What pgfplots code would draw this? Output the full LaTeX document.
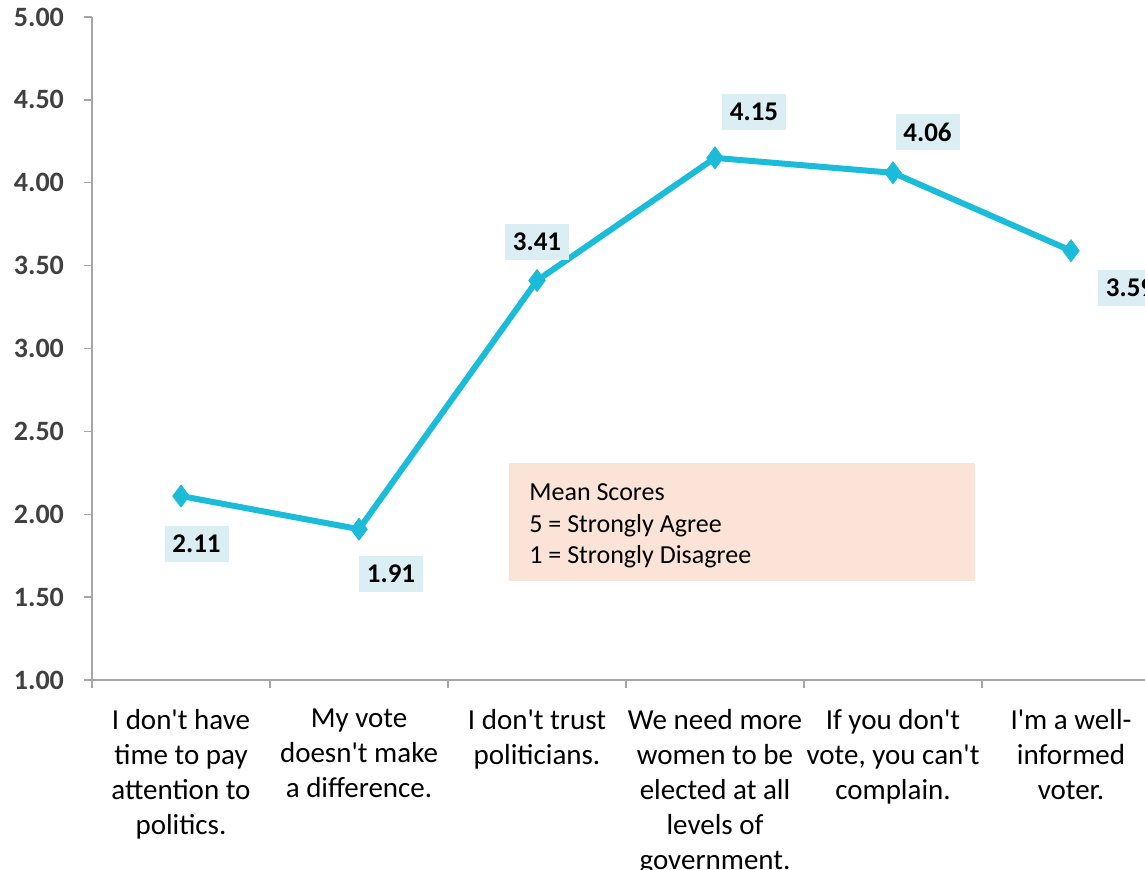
\documentclass[border=0pt]{standalone}
\usepackage{pgfplots}
\pgfplotsset{compat=1.18}
\usepackage{pgfplotstable}
\usepackage{fontspec}
\setmainfont{Carlito}
\definecolor{linecyan}{HTML}{1BBCD9}
\definecolor{labelbox}{HTML}{DBEEF4}
\definecolor{notebox}{HTML}{FBE4D7}
\definecolor{axisgray}{HTML}{A6A6A6}
\definecolor{ticktext}{HTML}{404040}
\newcommand{\ap}{\textquotesingle}

% x = category index, y = mean score, dx/dy = label offset in pt
\pgfplotstableread{
x y dx dy
0 2.11 7.75 -23.75
1 1.91 16 -22.5
2 3.41 0 19.5
3 4.15 19.5 23
4 4.06 17.25 20.25
5 3.59 29.5 -18.5
}\meanscores

\begin{document}
\begin{tikzpicture}
\begin{axis}[
  scale only axis, width=534pt, height=331.5pt,
  xmin=-0.5, xmax=5.5, ymin=1, ymax=5,
  axis lines*=left, clip=false,
  axis line style={axisgray, line width=0.7pt},
  tick style={axisgray, line width=0.7pt},
  tick align=outside, major tick length=4pt,
  ytick={1,1.5,...,5},
  /pgf/number format/assume math mode=true,
  yticklabel={\pgfmathprintnumber[fixed,fixed zerofill,precision=2]{\tick}},
  yticklabel style={font=\fontsize{14}{17}\selectfont\bfseries, text=ticktext,
    xshift=-6.5pt},
  xtick={-0.5,0.5,...,5.5}, xticklabels={},
  extra x ticks={0,1,2,3,4,5},
  extra x tick labels={
    {I don\ap t have\\time to pay\\attention to\\politics.},
    {My vote\\doesn\ap t make\\a difference.},
    {I don\ap t trust\\politicians.},
    {We need more\\women to be\\elected at all\\levels of\\government.},
    {If you don\ap t\\vote, you can\ap t\\complain.},
    {I\ap m a well-\\informed\\voter.}},
  extra x tick style={major tick length=0pt,
    tick label style={align=center, text=black, yshift=-11pt,
      font=\fontsize{14.5}{17.5}\selectfont}},
]
\fill[notebox] (axis cs:1.843,1.597) rectangle (axis cs:4.461,2.309);
\node[anchor=north west, align=left, inner sep=0pt,
      font=\fontsize{13}{15.75}\selectfont]
  at (axis cs:1.955,2.185) {Mean Scores\\5 = Strongly Agree\\1 = Strongly Disagree};
\addplot[linecyan, line width=3pt,
  mark=diamond*, mark size=5.5pt,
  mark options={solid, fill=linecyan, draw=linecyan, line width=0.4pt},
  nodes near coords={\pgfmathprintnumber[fixed,fixed zerofill,precision=2]{\pgfplotspointmeta}},
  visualization depends on={\thisrow{dx} \as \dx},
  visualization depends on={\thisrow{dy} \as \dy},
  nodes near coords style={anchor=center, xshift=\dx pt, yshift=\dy pt,
    fill=labelbox, text=black, inner sep=0pt,
    minimum width=32pt, minimum height=18pt,
    font=\fontsize{13.5}{16}\selectfont\bfseries},
] table[x=x, y=y] {\meanscores};
\end{axis}
\pgfresetboundingbox
\useasboundingbox (-46pt,-94.5pt) rectangle (526.5pt,340pt);
\end{tikzpicture}
\end{document}
